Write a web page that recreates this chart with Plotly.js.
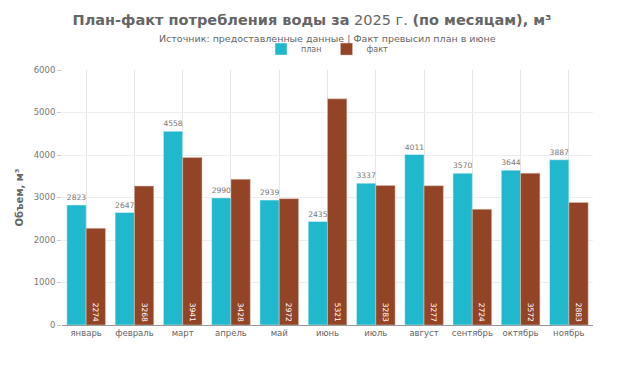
<!DOCTYPE html>
<html><head><meta charset="utf-8">
<script src="https://cdn.plot.ly/plotly-3.0.1.min.js"></script>
<style>body{margin:0;padding:0;background:#fff}#chart{width:624px;height:367px}</style>
</head><body><div id="chart"></div>
<script>
const months = ["январь","февраль","март","апрель","май","июнь","июль","август","сентябрь","октябрь","ноябрь"];
const plan = [2823,2647,4558,2990,2939,2435,3337,4011,3570,3644,3887];
const fact = [2274,3268,3941,3428,2972,5321,3283,3277,2724,3572,2883];
const FONT = "DejaVu Sans, sans-serif";
const traces = [
  {type:"bar", name:"план", x:months, y:plan, marker:{color:"#1FB8CD", line:{color:"#e8f4f6", width:0.5}},
   text:plan.map(String), textposition:"outside", cliponaxis:false,
   textfont:{size:8, color:"#777", family:FONT}, hoverinfo:"skip"},
  {type:"bar", name:"факт", x:months, y:fact, marker:{color:"#944426", line:{color:"#d9c3b8", width:0.5}},
   text:fact.map(String), textposition:"inside", insidetextanchor:"start", textangle:90,
   textfont:{size:7.5, color:"#fff", family:FONT}, hoverinfo:"skip"}
];
const layout = {
  width:624, height:367,
  margin:{l:62, r:31, t:70, b:42},
  paper_bgcolor:"#fff", plot_bgcolor:"#fff",
  font:{family:FONT, color:"#666"},
  title:{text:"<b>План-факт потребления воды за</b> 2025 г. <b>(по месяцам), м³</b>", x:0.5, xanchor:"center", y:0.945, yanchor:"middle",
    font:{size:14.5, color:"#666", family:FONT}},
  annotations:[{text:"Источник: предоставленные данные | Факт превысил план в июне", xref:"paper", yref:"paper",
    x:0.5, y:1, yshift:32, xanchor:"center", yanchor:"middle", showarrow:false, font:{size:9.5, color:"#666", family:FONT}}],
  legend:{orientation:"h", x:0.5, xanchor:"center", y:1.082, yanchor:"middle", font:{size:8, color:"#666"},
    itemwidth:30, tracegroupgap:0, bgcolor:"rgba(0,0,0,0)"},
  barmode:"group", bargap:0.2, bargroupgap:0,
  xaxis:{showgrid:true, gridcolor:"#e6e6e6", tickfont:{size:8.5, color:"#666"}, showline:true, linecolor:"#999", ticks:"", zeroline:false},
  yaxis:{range:[0,6000], dtick:1000, showgrid:true, gridcolor:"#eee", ticks:"outside", ticklen:4, tickcolor:"#ccc",
    tickfont:{size:8.5, color:"#777"}, zeroline:false,
    title:{text:"<b>Объем, м³</b>", font:{size:10, color:"#666"}, standoff:8}},
  showlegend:true
};
Plotly.newPlot("chart", traces, layout, {displayModeBar:false, staticPlot:true});
</script></body></html>
